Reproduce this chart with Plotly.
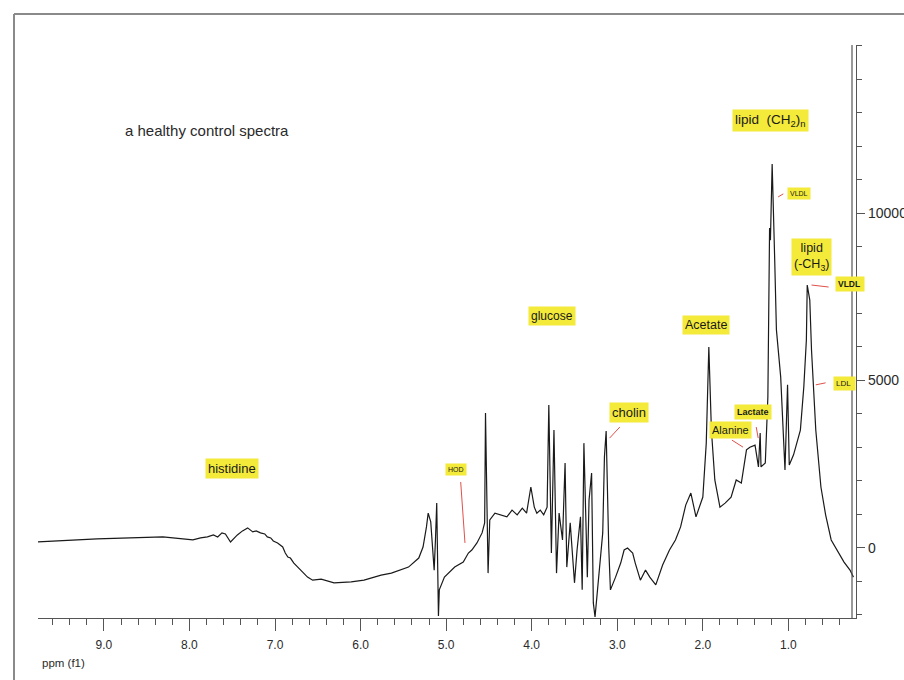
import plotly.graph_objects as go

# chemical shift (ppm) and intensity
ppm = [9.77, 9.08, 8.31, 8.03, 7.96, 7.87, 7.79, 7.72, 7.67, 7.62, 7.58, 7.52, 7.47, 7.44,
       7.38, 7.32, 7.26, 7.22, 7.17, 7.12, 7.09, 7.05, 7.02, 6.97, 6.91, 6.88, 6.85, 6.82,
       6.78, 6.70, 6.62, 6.56, 6.46, 6.31, 6.11, 5.96, 5.84, 5.76, 5.64, 5.44, 5.32, 5.27,
       5.23, 5.21, 5.18, 5.16, 5.14, 5.125, 5.11, 5.10, 5.09, 5.08, 5.02, 4.90, 4.80, 4.74,
       4.70, 4.64, 4.58, 4.55, 4.54, 4.51, 4.49, 4.43, 4.35, 4.29, 4.23, 4.17, 4.11, 4.06,
       4.01, 3.97, 3.94, 3.90, 3.86, 3.82, 3.80, 3.77, 3.74, 3.71, 3.68, 3.64, 3.61, 3.59,
       3.55, 3.50, 3.47, 3.43, 3.41, 3.39, 3.35, 3.33, 3.30, 3.28, 3.26, 3.23, 3.17, 3.15,
       3.13, 3.10, 3.08, 3.02, 2.96, 2.92, 2.88, 2.82, 2.79, 2.73, 2.67, 2.62, 2.55, 2.47,
       2.39, 2.32, 2.26, 2.20, 2.14, 2.08, 2.00, 1.96, 1.93, 1.90, 1.86, 1.80, 1.74, 1.67,
       1.61, 1.55, 1.49, 1.45, 1.39, 1.35, 1.33, 1.32, 1.27, 1.24, 1.22, 1.21, 1.19, 1.16,
       1.14, 1.09, 1.06, 1.04, 1.01, 0.99, 0.94, 0.89, 0.86, 0.82, 0.79, 0.78, 0.75, 0.73,
       0.68, 0.62, 0.565, 0.50, 0.42, 0.35, 0.28, 0.24]
intensity = [180, 270, 330, 270, 240, 300, 330, 390, 330, 450, 420, 180, 330, 390,
             510, 600, 480, 510, 450, 420, 330, 300, 210, 150, 30, -150, -270, -300,
             -450, -660, -870, -960, -930, -1040, -1010, -960, -870, -810, -750, -570, -300, 30,
             630, 1040, 780, 90, -660, 240, 1340, -360, -2030, -1250, -870, -570, -420, -150,
             -60, 150, 450, 750, 4030, -750, 840, 1040, 990, 930, 1130, 990, 1190, 1040,
             1820, 1220, 1040, 1130, 990, 1220, 4270, -150, 3520, -750, 1040, 240, 2540, -570,
             750, -1040, -60, 930, -1250, 3130, -870, 1430, 2240, -1640, -2060, -1250, 450, 2720,
             3490, 30, -1250, -870, -450, -60, 0, -150, -450, -960, -660, -870, -1100, -510,
             -60, 240, 630, 1280, 1640, 930, 1520, 3130, 6000, 3520, 2030, 1220, 1340, 1520,
             2030, 1940, 2930, 3010, 3070, 2420, 3430, 2420, 2540, 4510, 9550, 9190, 11460, 8600,
             6510, 5100, 3220, 2330, 4870, 2480, 2780, 3220, 3520, 4810, 6210, 7850, 7400, 5910,
             3520, 1820, 990, 240, -120, -420, -660, -870]

x_tick_vals = [9, 8, 7, 6, 5, 4, 3, 2, 1]
x_tick_text = ["9.0", "8.0", "7.0", "6.0", "5.0", "4.0", "3.0", "2.0", "1.0"]
y_tick_vals = [0, 5000, 10000]
y_tick_text = ["0", "5000", "10000"]

# labels: (text, ppm, intensity, font size)
labels = [
    ("glucose", 3.76, 6930, 12),
    ("Acetate", 1.96, 6660, 12.5),
    ("cholin", 2.86, 4030, 13),
    ("<b>Lactate</b>", 1.41, 4050, 9),
    ("Alanine", 1.68, 3520, 11),
    ("histidine", 7.50, 2360, 13),
    ("HOD", 4.88, 2330, 7),
    ("LDL ", 0.342, 4900, 8),
    ("VLDL", 0.88, 10570, 7),
    ("<b>VLDL </b>", 0.283, 7880, 8.5),
    ("lipid  (CH<sub>2</sub>)<sub>n</sub>", 1.21, 12750, 13.5),
    ("lipid<br>(-CH<sub>3</sub>)", 0.73, 8690, 12.5),
]

# pointer lines: (ppm0, int0, ppm1, int1)
pointers = [
    (4.83, 1970, 4.78, 150),
    (3.09, 3280, 2.97, 3610),
    (1.66, 3220, 1.53, 3010),
    (1.376, 3610, 1.353, 3280),
    (0.68, 4870, 0.565, 4930),
    (1.12, 10480, 1.06, 10570),
    (0.73, 7850, 0.53, 7790),
]

FONT = "Liberation Sans, Arial, sans-serif"
W, H = 904, 680
L, T = 38, 45
R, B = 48, 62
PW, PH = W - L - R, H - T - B


def px(X):
    return (X - L) / PW


def py(Y):
    return (H - B - Y) / PH


fig = go.Figure()
fig.add_trace(go.Scatter(x=ppm, y=intensity, mode="lines",
                         line=dict(color="#1a1a1a", width=1.2),
                         hoverinfo="skip", showlegend=False))

for text, xv, yv, fs in labels:
    fig.add_annotation(x=xv, y=yv, xref="x", yref="y", text=text, showarrow=False,
                       font=dict(family=FONT, size=fs, color="#1a1a1a"),
                       bgcolor="#f3ea3a", borderpad=2)

fig.add_annotation(x=8.78, y=12450, xref="x", yref="y", xanchor="left",
                   text="a healthy control spectra", showarrow=False,
                   font=dict(family=FONT, size=15, color="#2a2a2a"))
fig.add_annotation(x=px(40), y=py(663), xref="paper", yref="paper", xanchor="left",
                   yanchor="middle", text="ppm (f1)", showarrow=False,
                   font=dict(family=FONT, size=11.5, color="#2a2a2a"))

for x0, y0, x1, y1 in pointers:
    fig.add_shape(type="line", x0=x0, y0=y0, x1=x1, y1=y1, xref="x", yref="y",
                  line=dict(color="#e0504a", width=1))

# inner frame line beside the y axis
fig.add_shape(type="line", x0=px(852), x1=px(852), y0=0, y1=1, xref="paper", yref="paper",
              line=dict(color="#555555", width=1.2))
# outer page border
fig.add_shape(type="line", x0=px(14), x1=px(14), y0=py(14), y1=py(690),
              xref="paper", yref="paper", line=dict(color="#8a8a8a", width=2))
fig.add_shape(type="line", x0=px(14), x1=px(910), y0=py(14), y1=py(14),
              xref="paper", yref="paper", line=dict(color="#8a8a8a", width=2))

fig.update_layout(
    width=W, height=H,
    margin=dict(l=L, r=R, t=T, b=B, autoexpand=False),
    paper_bgcolor="white", plot_bgcolor="white",
    showlegend=False,
    xaxis=dict(range=[9.77, 0.21], tickmode="array", tickvals=x_tick_vals,
               ticktext=x_tick_text, ticks="outside", ticklen=12, tickwidth=1,
               tickcolor="#555555", showline=True, linecolor="#555555", linewidth=1.2,
               showgrid=False, zeroline=False, ticklabelstandoff=3, automargin=False,
               tickfont=dict(family=FONT, size=12, color="#2a2a2a"),
               minor=dict(dtick=0.2, tick0=0, ticks="outside", ticklen=6,
                          tickcolor="#555555", showgrid=False)),
    yaxis=dict(range=[-2090, 15015], side="right", tickmode="array",
               tickvals=y_tick_vals, ticktext=y_tick_text, ticks="outside",
               ticklen=8, tickwidth=1, tickcolor="#555555", showline=True,
               linecolor="#555555", linewidth=1.2, showgrid=False, zeroline=False,
               automargin=False,
               tickfont=dict(family=FONT, size=14, color="#2a2a2a"),
               minor=dict(dtick=1000, tick0=0, ticks="outside", ticklen=5,
                          tickcolor="#555555", showgrid=False)),
)

fig.write_html("out.html",
               config={"displayModeBar": False, "staticPlot": True},
               post_script="document.body.style.margin='0px';"
                           "document.body.style.overflow='hidden';")
